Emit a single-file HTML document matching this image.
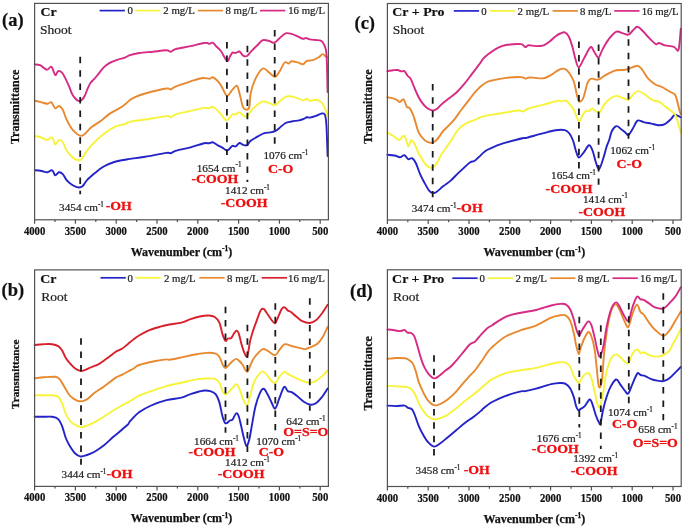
<!DOCTYPE html>
<html><head><meta charset="utf-8"><style>
html,body{margin:0;padding:0;background:#fff;}
svg{display:block;will-change:transform;}
</style></head><body>
<svg width="685" height="528" viewBox="0 0 685 528">
<rect width="685" height="528" fill="#fff"/>
<g fill="none" stroke-width="1.9" stroke-linejoin="round" stroke-linecap="round">
<path stroke="#2323c8" d="M34.7,170.3 C35.9,170.4,39.6,170.7,41.6,171 C43.6,171.3,45.1,172.4,46.9,172.3 C48.7,172.2,50.8,169.8,52.2,170.3 C53.6,170.8,54.1,175,55.2,175.3 C56.3,175.6,57.7,172.5,59,172.3 C60.3,172.1,61.5,172.8,62.8,174.1 C64.1,175.4,65.1,178.4,66.6,180.2 C68.1,182,70,183.5,71.9,184.7 C73.8,185.9,76.2,187.2,78,187.4 C79.8,187.7,81,187.4,82.5,186.2 C84,185,85,182.3,87,180.2 C89,178,91.8,175.6,94.6,173.3 C97.4,171,100.4,168.4,103.7,166.5 C107,164.6,110.8,163.1,114.3,162 C117.8,160.9,122.3,160.2,124.9,159.7 C127.5,159.2,126.6,159.4,130,158.9 C133.4,158.4,139.1,157.7,145.2,156.7 C151.3,155.7,162.1,153.5,166.4,152.9 C170.7,152.3,169.4,153.6,170.9,153.3 C172.4,153,172.2,151.9,175.5,150.9 C178.8,149.9,185.8,148.6,190.6,147.3 C195.4,146,201.2,144,204.2,143.3 C207.2,142.6,207.4,143.5,208.8,143.3 C210.2,143.1,211.1,142,212.6,142.3 C214.1,142.6,216.3,144.4,217.9,145.3 C219.5,146.2,220.9,146.7,222.4,147.6 C223.9,148.5,225.7,150.5,227,150.6 C228.3,150.7,229.1,149.1,230,148.3 C230.9,147.5,231.6,146.1,232.5,145.8 C233.4,145.5,234.4,146.9,235.6,146.4 C236.8,145.9,238.1,143.3,239.4,143 C240.7,142.7,241.9,144.4,243.2,144.8 C244.5,145.2,245.8,146,247,145.3 C248.2,144.6,248.8,142.3,250.7,140.8 C252.6,139.3,256,137.5,258.3,136.2 C260.6,134.9,262.4,133.8,264.4,133.2 C266.4,132.6,268.6,132.7,270.4,132.4 C272.2,132.1,273.5,131.9,275,131.2 C276.5,130.4,277.7,129.3,279.5,127.9 C281.3,126.5,283.6,124.1,285.6,123 C287.6,121.9,289.3,122,291.6,121.5 C293.9,121,297.2,120.8,299.2,120.3 C301.2,119.8,302.5,119.3,303.8,118.8 C305.1,118.3,305.8,117.5,306.8,117.3 C307.8,117.1,308.3,117.8,309.8,117.6 C311.3,117.3,313.9,116.5,315.9,115.8 C317.9,115.1,320.4,113.6,321.9,113.5 C323.4,113.4,324.2,112.8,325,115 C325.8,117.2,326.1,119.6,326.5,126.4 C326.9,133.2,327.4,151.1,327.6,156"/>
<path stroke="#f7f33a" d="M34.7,136.2 C35.6,136.3,38.1,136.4,40.1,137 C42.1,137.6,44.9,139.9,46.9,140 C48.9,140.1,50.8,136.7,52.2,137.4 C53.6,138.2,54.1,144.1,55.2,144.5 C56.3,144.9,57.7,140.4,59,140 C60.3,139.6,61.5,140.5,62.8,142.3 C64.1,144.1,65.1,148.2,66.6,150.6 C68.1,153,70.3,155.2,71.9,156.7 C73.5,158.2,74.9,159.2,76.4,159.7 C77.9,160.2,79.5,160.8,81,159.7 C82.5,158.6,84,155.1,85.5,152.9 C87,150.8,88.1,149.1,90.1,146.8 C92.1,144.5,94.8,141.7,97.6,139.2 C100.4,136.7,103.7,133.8,106.7,131.7 C109.7,129.6,112.8,127.7,115.8,126.4 C118.8,125.1,122.5,124.9,124.9,124.1 C127.3,123.3,126.6,122.6,130,121.8 C133.4,121,139.1,120.5,145.2,119.5 C151.3,118.5,162.1,116.5,166.4,116.1 C170.7,115.7,169.4,117.6,170.9,117.3 C172.4,117,172.2,115.6,175.5,114.5 C178.8,113.4,185.8,112,190.6,110.9 C195.4,109.8,201.2,108.4,204.2,107.9 C207.2,107.5,207.4,108.4,208.8,108.2 C210.2,108,211.3,106.5,212.6,106.7 C213.9,106.9,215,108.2,216.4,109.4 C217.8,110.7,219.3,112.4,220.9,114.2 C222.5,116,224.7,119.8,226.2,120.3 C227.7,120.8,228.9,118.3,230,117.3 C231.1,116.3,231.6,114.7,232.5,114.2 C233.4,113.7,234.4,114.8,235.6,114.5 C236.8,114.2,238.1,112.2,239.4,112.4 C240.7,112.6,241.9,114.8,243.2,115.5 C244.5,116.2,245.8,117.2,247,116.5 C248.2,115.8,249.1,113.1,250.7,111.2 C252.3,109.3,254.8,106.8,256.8,105.2 C258.8,103.6,260.8,101.8,262.8,101.4 C264.8,101,266.9,102.3,268.9,102.9 C270.9,103.5,273.2,105.5,275,105.2 C276.8,105,277.7,102.8,279.5,101.4 C281.3,100,283.6,97.6,285.6,96.8 C287.6,96,289.6,96.2,291.6,96.4 C293.6,96.7,295.8,97.7,297.7,98.3 C299.6,98.9,301.5,100.2,303,100.3 C304.5,100.4,305.7,98.7,306.8,98.8 C307.9,98.9,308.3,100.7,309.8,100.9 C311.3,101.1,314,99.6,315.9,99.8 C317.8,100,319.7,100.7,321.2,102.1 C322.7,103.5,323.9,105.9,325,108.2 C326.1,110.5,327.2,114.7,327.6,116"/>
<path stroke="#e8892f" d="M34.7,100.8 C35.9,101,39.5,101.8,41.6,102.3 C43.8,102.8,46,103.8,47.6,103.8 C49.2,103.8,50.1,101.5,51.4,102.3 C52.7,103,53.9,107.7,55.2,108.3 C56.5,108.9,57.7,105.8,59,106 C60.3,106.2,61.5,107.5,62.8,109.8 C64.1,112.1,65.1,116.5,66.6,119.7 C68.1,122.9,69.8,126.2,71.9,128.8 C74.1,131.4,77.5,134.5,79.5,135.5 C81.5,136.5,82,136.1,84,134.7 C86,133.3,88.8,129.4,91.6,127.1 C94.4,124.8,97.7,123.2,100.7,121 C103.7,118.8,106.3,116,109.8,113.6 C113.3,111.2,118.5,109.1,121.9,106.8 C125.3,104.5,127.9,101.6,130,100 C132.1,98.4,132,98.4,134.5,97.3 C137,96.2,139.9,95,145.2,93.5 C150.5,92,162.1,89.2,166.4,88.5 C170.7,87.8,169.4,89.7,170.9,89.4 C172.4,89.1,172.2,88,175.5,86.7 C178.8,85.4,186.1,82.9,190.6,81.4 C195.1,80,199.5,78.4,202.7,78 C205.8,77.6,207.8,78.9,209.5,78.8 C211.2,78.7,211.4,77.1,212.6,77.3 C213.8,77.5,215,78.5,216.4,79.8 C217.8,81.1,219.4,82.8,220.9,85.2 C222.4,87.6,224.4,92.4,225.5,94.2 C226.6,96,226.9,96,227.7,95.8 C228.4,95.6,229.2,94,230,93 C230.8,92,231.3,90.9,232.5,89.7 C233.7,88.5,235.8,84.9,237.1,85.9 C238.4,86.9,239,92.1,240.1,95.8 C241.2,99.5,242,106,243.5,108 C245,110,247.8,110.5,249,108 C250.2,105.5,249.6,97.8,250.7,93 C251.8,88.2,253.3,83.2,255.3,79.1 C257.3,75,260.5,69.6,262.8,68.5 C265.1,67.4,266.9,70.9,268.9,72.3 C270.9,73.7,273.2,76.9,275,76.8 C276.8,76.7,277.9,73.9,279.5,71.5 C281.1,69.1,283.3,63.7,284.8,62.4 C286.3,61.1,287.5,63.8,288.6,63.6 C289.7,63.4,290.1,61.4,291.6,61.2 C293.1,61,295.8,61.9,297.7,62.4 C299.6,62.9,301.5,64.5,303,64.2 C304.5,64,305.2,61.6,306.8,60.9 C308.4,60.2,310.8,60.8,312.8,60.2 C314.8,59.6,317.2,58.1,318.9,57.1 C320.5,56.1,321.6,54.2,322.7,54.1 C323.8,54,324.9,55.9,325.7,56.4 C326.5,56.9,327.3,56.9,327.6,57"/>
<path stroke="#d62a84" d="M34.7,64.4 C35.6,64.5,38.1,64.3,40.1,65.2 C42.1,66.1,45,69.5,46.9,69.7 C48.8,70,50,65.8,51.4,66.7 C52.8,67.6,54.1,74.2,55.2,75 C56.3,75.8,57.1,71.6,58.2,71.2 C59.3,70.8,60.9,71.6,62,72.7 C63.1,73.8,63.8,75.3,65,77.7 C66.2,80.1,68.1,84.2,69.3,86.9 C70.5,89.6,71,92,72.1,94 C73.2,96,74.5,97.8,75.7,99 C76.9,100.2,78.2,101,79.2,101.1 C80.2,101.2,81,100.6,82,99.7 C83,98.8,84,97.4,84.9,95.5 C85.9,93.6,86.8,90.5,87.7,88.4 C88.7,86.3,89.5,84.2,90.6,82.7 C91.7,81.2,92.9,80.4,94.1,79.1 C95.3,77.8,96,77,97.6,75 C99.2,73,101.7,69.4,103.7,67.4 C105.7,65.4,107.5,64.2,109.8,62.9 C112.1,61.6,114.8,60.7,117.3,59.8 C119.8,58.9,122.8,58.4,124.9,57.6 C127,56.8,127.6,56,130,55.2 C132.4,54.4,135.3,53.6,139.1,53 C142.9,52.4,148.1,52.2,152.7,51.8 C157.2,51.3,163.4,50.3,166.4,50.3 C169.4,50.3,169.4,52,170.9,51.8 C172.4,51.6,172.2,50,175.5,49.1 C178.8,48.2,186.1,47.1,190.6,46.1 C195.1,45.1,199.9,43.7,202.7,43.2 C205.5,42.7,206.2,42.9,207.3,43 C208.4,43.1,208.6,43.9,209.5,43.9 C210.4,43.9,211.4,42.3,212.6,42.7 C213.8,43.1,215,45.1,216.4,46.5 C217.8,47.9,219.1,48.6,220.9,51 C222.7,53.4,225.5,60,227,60.9 C228.5,61.8,229.1,57.8,230,56.4 C230.9,55,231.6,53.2,232.5,52.6 C233.4,52,234.4,53.2,235.6,53 C236.8,52.8,238.1,51.1,239.4,51.5 C240.7,51.9,241.9,54.9,243.2,55.6 C244.5,56.4,245.8,56.6,247,56 C248.2,55.4,249.1,53.5,250.7,51.8 C252.3,50.1,254.8,47.7,256.8,45.8 C258.8,43.9,260.8,41,262.8,40.2 C264.8,39.4,267,40.5,268.9,40.9 C270.8,41.3,272.4,43.2,274.2,42.7 C276,42.2,277.6,39.8,279.5,38.2 C281.4,36.6,283.6,34,285.6,33.3 C287.6,32.6,289.6,33.4,291.6,33.9 C293.6,34.4,295.8,35.6,297.7,36.4 C299.6,37.2,301.6,38.6,303,38.9 C304.4,39.1,304.9,37.8,306,37.9 C307.1,38,308.2,39,309.8,39.4 C311.4,39.8,314,39.8,315.9,40 C317.8,40.2,319.8,40.1,321.2,40.9 C322.6,41.7,323.3,42.7,324.2,45 C325.1,47.3,325.9,47,326.5,54.8 C327.1,62.6,327.4,85.8,327.6,92"/>
</g>
<g stroke="#1a1a1a" stroke-width="1.8" stroke-dasharray="6.5 6.9">
<line x1="80.2" y1="56.8" x2="80.2" y2="194.3"/>
<line x1="226.9" y1="42" x2="226.9" y2="154.9"/>
<line x1="247.4" y1="45.8" x2="247.4" y2="182"/>
<line x1="274.7" y1="30.1" x2="274.7" y2="143.9"/>
</g>
<rect x="34.6" y="3.4" width="293.8" height="216.4" fill="none" stroke="#525252" stroke-width="1.2"/>
<path stroke="#525252" stroke-width="1.2" fill="none" d="M34.6,219.8 v4 M55,219.8 v2.2 M75.4,219.8 v4 M95.8,219.8 v2.2 M116.2,219.8 v4 M136.6,219.8 v2.2 M157,219.8 v4 M177.4,219.8 v2.2 M197.8,219.8 v4 M218.2,219.8 v2.2 M238.6,219.8 v4 M259,219.8 v2.2 M279.4,219.8 v4 M299.8,219.8 v2.2 M320.2,219.8 v4"/>
<g font-family='"Liberation Serif", serif' font-weight="bold" font-size="11.8" fill="#111" stroke="#111" stroke-width="0.2" text-anchor="middle">
<text transform="translate(34.6,234.8) scale(0.91,1)">4000</text>
<text transform="translate(75.4,234.8) scale(0.91,1)">3500</text>
<text transform="translate(116.2,234.8) scale(0.91,1)">3000</text>
<text transform="translate(157,234.8) scale(0.91,1)">2500</text>
<text transform="translate(197.8,234.8) scale(0.91,1)">2000</text>
<text transform="translate(238.6,234.8) scale(0.91,1)">1500</text>
<text transform="translate(279.4,234.8) scale(0.91,1)">1000</text>
<text transform="translate(320.2,234.8) scale(0.91,1)">500</text>
</g>
<text x="181.5" y="255.8" font-family='"Liberation Serif", serif' font-weight="bold" font-size="12" fill="#111" stroke="#111" stroke-width="0.25" text-anchor="middle">Wavenumber (cm<tspan font-size="7.5" dy="-4.5">-1</tspan><tspan dy="4.5">)</tspan></text>
<text transform="translate(19.2,106.8) rotate(-90)" font-family='"Liberation Serif", serif' font-weight="bold" font-size="12" fill="#111" stroke="#111" stroke-width="0.25" text-anchor="middle">Transmittance</text>
<text x="2.1" y="25.8" font-family='"Liberation Serif", serif' font-weight="bold" font-size="18.5" fill="#111" stroke="#111" stroke-width="0.2">(a)</text>
<text transform="translate(40.5,15.7) scale(1.07,1)" font-family='"Liberation Serif", serif' font-weight="bold" font-size="13" fill="#111" stroke="#111" stroke-width="0.15">Cr</text>
<text x="40" y="34" font-family='"Liberation Serif", serif' font-size="13.5" fill="#222" stroke="#222" stroke-width="0.22">Shoot</text>
<line x1="99.6" y1="10.6" x2="124.9" y2="10.6" stroke="#2323c8" stroke-width="1.7"/>
<text x="127.4" y="14.4" font-family='"Liberation Serif", serif' font-size="10.8" fill="#222" stroke="#222" stroke-width="0.22">0</text>
<line x1="135.2" y1="10.6" x2="160.5" y2="10.6" stroke="#f7f33a" stroke-width="1.7"/>
<text x="163.3" y="14.4" font-family='"Liberation Serif", serif' font-size="10.8" fill="#222" stroke="#222" stroke-width="0.22">2 mg/L</text>
<line x1="197.8" y1="10.6" x2="223.1" y2="10.6" stroke="#e8892f" stroke-width="1.7"/>
<text x="225.5" y="14.4" font-family='"Liberation Serif", serif' font-size="10.8" fill="#222" stroke="#222" stroke-width="0.22">8 mg/L</text>
<line x1="260" y1="10.6" x2="285.3" y2="10.6" stroke="#d62a84" stroke-width="1.7"/>
<text x="288.2" y="14.4" font-family='"Liberation Serif", serif' font-size="10.8" fill="#222" stroke="#222" stroke-width="0.22">16 mg/L</text>
<text x="59.1" y="211" font-family='"Liberation Serif", serif' font-size="11.2" fill="#222" stroke="#222" stroke-width="0.22">3454 cm<tspan font-size="7.2" dy="-4.3">-1</tspan></text>
<text transform="translate(105.7,209.9) scale(1.05,1)" font-family='"Liberation Serif", serif' font-weight="bold" font-size="13.2" fill="#ee1111" stroke="#ee1111" stroke-width="0.3">-OH</text>
<text x="196.7" y="171.5" font-family='"Liberation Serif", serif' font-size="11.2" fill="#222" stroke="#222" stroke-width="0.22">1654 cm<tspan font-size="7.2" dy="-4.3">-1</tspan></text>
<text transform="translate(191.4,183.4) scale(1.05,1)" font-family='"Liberation Serif", serif' font-weight="bold" font-size="13.2" fill="#ee1111" stroke="#ee1111" stroke-width="0.3">-COOH</text>
<text x="225.1" y="193.9" font-family='"Liberation Serif", serif' font-size="11.2" fill="#222" stroke="#222" stroke-width="0.22">1412 cm<tspan font-size="7.2" dy="-4.3">-1</tspan></text>
<text transform="translate(220.7,207.4) scale(1.05,1)" font-family='"Liberation Serif", serif' font-weight="bold" font-size="13.2" fill="#ee1111" stroke="#ee1111" stroke-width="0.3">-COOH</text>
<text x="263.4" y="159.4" font-family='"Liberation Serif", serif' font-size="11.2" fill="#222" stroke="#222" stroke-width="0.22">1076 cm<tspan font-size="7.2" dy="-4.3">-1</tspan></text>
<text transform="translate(267.9,173.3) scale(1.05,1)" font-family='"Liberation Serif", serif' font-weight="bold" font-size="13.2" fill="#ee1111" stroke="#ee1111" stroke-width="0.3">C-O</text>
<g fill="none" stroke-width="1.9" stroke-linejoin="round" stroke-linecap="round">
<path stroke="#2323c8" d="M34.6,416.8 C36,416.8,40.2,416.8,43.1,416.8 C46,416.8,49.7,416.4,52.2,416.8 C54.7,417.2,56.6,417.6,58.2,419.1 C59.8,420.6,60.7,422.8,62,425.9 C63.3,429,64.4,434.5,65.8,438 C67.2,441.5,68.9,444.6,70.4,447.1 C71.9,449.6,73.2,451.6,74.9,453.2 C76.6,454.8,78.7,456.2,80.7,456.5 C82.7,456.8,84.7,455.8,87,455 C89.3,454.2,91.8,453.3,94.6,451.7 C97.4,450.1,100.7,448,103.7,445.6 C106.7,443.2,109.8,440,112.8,437.3 C115.8,434.6,119.4,431.9,121.9,429.7 C124.4,427.5,126.7,425.8,128,424.4 C129.3,423,128.2,423.4,130,421.4 C131.8,419.4,135.6,414.9,139.1,412.3 C142.6,409.7,146.6,407.5,151.2,405.5 C155.8,403.5,161.3,401.5,166.4,400.2 C171.5,398.9,177.5,398.6,181.5,397.6 C185.5,396.6,187.1,395.2,190.6,394.1 C194.1,393,199.4,391.3,202.7,390.8 C206,390.3,208.2,390.6,210.3,391.1 C212.5,391.7,214.1,392.2,215.6,394.1 C217.1,396,218.3,398.8,219.4,402.4 C220.5,406,221.4,412.5,222.4,416 C223.4,419.5,224.2,422.6,225.5,423.3 C226.8,424.1,228.7,421.1,229.9,420.5 C231.1,419.9,231.5,420.8,232.5,419.6 C233.5,418.4,235,414.1,236,413.5 C237,412.9,237.7,413.8,238.6,416 C239.5,418.2,240.4,422.9,241.3,426.6 C242.2,430.3,243,434.8,243.9,438 C244.8,441.2,245.6,445.6,246.5,445.9 C247.4,446.2,248.3,443.1,249.2,439.8 C250.1,436.5,250.8,431.3,251.8,425.8 C252.8,420.3,254,412.4,255.3,407 C256.6,401.6,258.4,396.3,259.8,393.3 C261.2,390.3,262.3,388.7,263.6,388.8 C264.9,388.9,266,391.7,267.4,394.1 C268.8,396.5,270.6,400.8,271.9,403.2 C273.2,405.6,274,409.4,275.3,408.5 C276.6,407.6,278,401.5,279.5,397.9 C281,394.3,282.7,388.1,284.1,387 C285.5,385.9,286.6,390.2,287.8,391.1 C289.1,392,290,391.2,291.6,392.1 C293.2,393,295.7,394.8,297.7,396.4 C299.7,398,301.6,400.3,303.8,401.7 C306,403.1,308.6,404.4,310.6,404.7 C312.6,404.9,314,404.5,315.9,403.2 C317.8,401.9,319.9,399.6,321.9,397.1 C323.8,394.7,326.7,389.9,327.6,388.5"/>
<path stroke="#f7f33a" d="M34.6,395.3 C36,395.3,40.2,395.3,43.1,395.3 C46,395.3,49.7,395.1,52.2,395.3 C54.7,395.6,56.6,395.5,58.2,396.8 C59.8,398.1,60.7,400.4,62,403.2 C63.3,406,64.4,410.8,65.8,413.8 C67.2,416.8,68.8,419.5,70.4,421.4 C72.1,423.3,73.9,424.2,75.7,425.2 C77.5,426.1,79.1,427,81,427.1 C82.9,427.2,84.7,426.4,87,425.6 C89.3,424.8,91.8,423.6,94.6,422.1 C97.4,420.6,100.7,418.7,103.7,416.8 C106.7,414.9,109.8,412.7,112.8,410.8 C115.8,408.9,119.4,406.9,121.9,405.5 C124.4,404.1,126,403.5,128,402.4 C130,401.2,132.2,399.7,134,398.6 C135.8,397.5,136.2,396.9,139.1,395.6 C142,394.4,146.6,392.7,151.2,391.1 C155.8,389.5,161.3,387.5,166.4,386.1 C171.5,384.7,176.4,383.8,181.5,382.7 C186.6,381.6,192.1,380.1,196.7,379.4 C201.2,378.7,205.8,378.6,208.8,378.5 C211.8,378.4,213,378.2,214.8,378.9 C216.6,379.6,218.1,380.7,219.4,382.7 C220.7,384.7,221.4,389.1,222.4,391.1 C223.4,393.1,224.6,394.2,225.5,394.5 C226.4,394.8,226.8,393.7,228,392.6 C229.2,391.5,231.1,389.4,232.5,388 C233.9,386.6,235.2,384.1,236.3,384.2 C237.5,384.3,238.2,386.3,239.4,388.8 C240.6,391.3,241.9,396.7,243.2,399.4 C244.5,402.1,245.9,405.7,247,405.2 C248.1,404.7,248.9,400.1,250,396.4 C251.1,392.6,252.4,386.2,253.8,382.7 C255.2,379.2,256.9,377.1,258.3,375.2 C259.7,373.3,260.8,371.7,262.1,371.4 C263.4,371.1,264.5,372.2,265.9,373.6 C267.3,375,268.9,378.1,270.4,379.7 C271.9,381.3,273.5,383.5,275,383 C276.5,382.5,278,378.6,279.5,376.7 C281,374.8,282.6,372.2,284.1,371.8 C285.6,371.4,286.8,373.5,288.6,374.4 C290.4,375.3,292.4,376.3,294.7,377.4 C297,378.5,299.7,380,302.2,380.9 C304.7,381.8,307.5,382.7,309.8,382.7 C312.1,382.7,313.9,381.9,315.9,380.9 C317.9,379.8,319.9,378.1,321.9,376.4 C323.8,374.7,326.7,371.5,327.6,370.5"/>
<path stroke="#e8892f" d="M34.6,378.3 C36,378.1,39.7,377.6,43.1,377.3 C46.5,377.1,52.4,376.5,55.2,376.8 C58,377.1,58.3,377.8,59.8,379.4 C61.3,381,62.8,384.2,64.3,386.7 C65.8,389.2,67.3,392.2,68.8,394.2 C70.3,396.2,71.5,397.4,73.4,398.6 C75.3,399.8,77.7,401.3,80,401.4 C82.3,401.5,84.6,400.8,87,399.4 C89.4,397.9,91.8,394.8,94.6,392.7 C97.4,390.6,100.2,389.2,103.7,386.7 C107.2,384.2,112.8,379.6,115.8,377.6 C118.8,375.6,119.9,375.8,121.9,374.8 C123.9,373.8,126,372.6,128,371.5 C130,370.4,132.2,369.3,134,368.2 C135.8,367.1,135.7,366.2,139.1,365 C142.5,363.8,149.6,362.1,154.2,361.2 C158.8,360.3,163.9,359.6,166.4,359.4 C168.9,359.1,166.9,360,169.4,359.7 C171.9,359.4,177.5,358.2,181.5,357.4 C185.5,356.6,189.5,355.6,193.6,354.8 C197.7,354.1,202.3,353.1,205.8,352.9 C209.3,352.6,212.5,352.7,214.8,353.3 C217.1,353.9,218.1,354.9,219.4,356.7 C220.7,358.5,221.4,362.3,222.4,364.2 C223.4,366.1,224.6,367.7,225.5,368 C226.4,368.3,226.8,366.9,228,365.8 C229.2,364.7,231.1,362.4,232.5,361.2 C233.9,360,235.2,358.9,236.3,358.9 C237.5,358.9,238.4,360.3,239.4,361.2 C240.4,362.1,241.1,362.7,242.4,364.5 C243.7,366.3,245.6,371.8,247,371.8 C248.4,371.8,249.6,366.8,250.7,364.5 C251.8,362.2,252.5,360.1,253.8,358.2 C255.1,356.3,256.8,354.4,258.3,352.9 C259.8,351.4,261.3,349.5,262.8,349.1 C264.3,348.7,265.4,349.6,267.4,350.6 C269.4,351.6,273,355.3,275,355.2 C277,355.1,277.9,351.6,279.5,349.8 C281.1,348,282.8,344.8,284.8,344.2 C286.8,343.6,289.2,345.4,291.6,346 C294,346.6,296.9,347.4,299.2,347.9 C301.5,348.4,303.3,349.3,305.3,349.1 C307.3,348.9,309.3,347.7,311.3,346.8 C313.3,345.9,315.5,345.4,317.4,343.8 C319.3,342.2,321,339.8,322.7,337 C324.4,334.2,326.8,328.7,327.6,327"/>
<path stroke="#d8202c" d="M34.6,345 C36,344.9,40.2,344.3,43.1,344.2 C46,344.1,49.7,343.9,52.2,344.2 C54.7,344.5,56.6,345.1,58.2,346.1 C59.8,347.1,60.7,348.3,62,350.3 C63.3,352.3,64.4,355.6,65.8,357.9 C67.2,360.2,68.9,362.2,70.4,363.9 C71.9,365.6,73.3,367,74.9,368.2 C76.5,369.4,78.7,370.4,80.2,370.8 C81.7,371.2,82.1,370.9,84,370.3 C85.9,369.7,89.1,368.1,91.6,367 C94.1,365.9,96.7,365.3,99.2,363.9 C101.7,362.5,103.9,360.6,106.7,358.6 C109.5,356.6,113.3,353.4,115.8,351.8 C118.3,350.2,119.9,350.1,121.9,348.8 C123.9,347.5,126,345.5,128,343.9 C130,342.2,132.2,340.3,134,338.9 C135.8,337.5,136.7,336.9,139.1,335.5 C141.5,334.1,144.7,332.1,148.2,330.6 C151.7,329.1,156.8,327.7,160.3,326.7 C163.8,325.7,165.9,325.2,169.4,324.5 C172.9,323.8,178,323.5,181.5,322.6 C185,321.7,187.6,320.1,190.6,319.1 C193.6,318.1,196.7,317.1,199.7,316.5 C202.7,315.9,206.3,315.4,208.8,315.5 C211.3,315.6,213,315.8,214.8,317 C216.6,318.2,218.1,319.8,219.4,322.6 C220.7,325.4,221.4,330.9,222.4,333.9 C223.4,336.9,224.6,340,225.5,340.8 C226.4,341.6,227.1,338.9,228,338.5 C228.9,338.1,230.1,338.8,231,338.2 C231.9,337.6,232.4,336,233.3,334.7 C234.2,333.4,235.4,330.9,236.3,330.6 C237.2,330.4,237.7,330.9,238.6,333.2 C239.5,335.5,240.6,341.1,241.6,344.5 C242.6,347.9,243.7,351.7,244.7,353.6 C245.7,355.5,246.5,357.9,247.4,355.9 C248.3,353.9,249.1,345.7,250,341.5 C250.9,337.3,251.9,334.4,253,330.9 C254.1,327.4,255.5,323.7,256.8,320.3 C258.1,316.9,259.5,312.4,260.6,310.5 C261.7,308.6,262.6,308.5,263.6,308.9 C264.6,309.3,265.3,310.9,266.6,312.7 C267.9,314.5,269.8,317.7,271.2,319.5 C272.6,321.3,273.9,323.7,275,323.3 C276.1,322.9,276.9,319.7,278,317.3 C279.1,314.9,280.7,310.5,281.8,308.9 C282.9,307.2,283.8,307.1,284.8,307.4 C285.8,307.7,286.8,309.7,287.8,310.5 C288.8,311.3,289.5,311,290.9,312 C292.3,313,294.3,315,296.2,316.5 C298.1,318,299.9,320,302.2,321.1 C304.5,322.2,307.5,323.1,309.8,323 C312.1,322.9,313.9,321.9,315.9,320.3 C317.9,318.7,319.9,316.1,321.9,313.5 C323.8,310.9,326.7,306.2,327.6,304.8"/>
</g>
<g stroke="#1a1a1a" stroke-width="1.8" stroke-dasharray="6.5 6.9">
<line x1="81" y1="338.2" x2="81" y2="464.8"/>
<line x1="225.5" y1="306.7" x2="225.5" y2="432.8"/>
<line x1="247.4" y1="324.8" x2="247.4" y2="452"/>
<line x1="275.3" y1="303.3" x2="275.3" y2="430.3"/>
<line x1="309.8" y1="298.3" x2="309.8" y2="410.8"/>
</g>
<rect x="34.6" y="269.9" width="293.8" height="216.5" fill="none" stroke="#525252" stroke-width="1.2"/>
<path stroke="#525252" stroke-width="1.2" fill="none" d="M34.6,486.4 v4 M55,486.4 v2.2 M75.4,486.4 v4 M95.8,486.4 v2.2 M116.2,486.4 v4 M136.6,486.4 v2.2 M157,486.4 v4 M177.4,486.4 v2.2 M197.8,486.4 v4 M218.2,486.4 v2.2 M238.6,486.4 v4 M259,486.4 v2.2 M279.4,486.4 v4 M299.8,486.4 v2.2 M320.2,486.4 v4"/>
<g font-family='"Liberation Serif", serif' font-weight="bold" font-size="11.8" fill="#111" stroke="#111" stroke-width="0.2" text-anchor="middle">
<text transform="translate(34.6,501.4) scale(0.91,1)">4000</text>
<text transform="translate(75.4,501.4) scale(0.91,1)">3500</text>
<text transform="translate(116.2,501.4) scale(0.91,1)">3000</text>
<text transform="translate(157,501.4) scale(0.91,1)">2500</text>
<text transform="translate(197.8,501.4) scale(0.91,1)">2000</text>
<text transform="translate(238.6,501.4) scale(0.91,1)">1500</text>
<text transform="translate(279.4,501.4) scale(0.91,1)">1000</text>
<text transform="translate(320.2,501.4) scale(0.91,1)">500</text>
</g>
<text x="181.5" y="522.4" font-family='"Liberation Serif", serif' font-weight="bold" font-size="12" fill="#111" stroke="#111" stroke-width="0.25" text-anchor="middle">Wavenumber (cm<tspan font-size="7.5" dy="-4.5">-1</tspan><tspan dy="4.5">)</tspan></text>
<text transform="translate(19.2,374.2) rotate(-90)" font-family='"Liberation Serif", serif' font-weight="bold" font-size="11.2" fill="#111" stroke="#111" stroke-width="0.25" text-anchor="middle">Transmittance</text>
<text x="1.5" y="295.5" font-family='"Liberation Serif", serif' font-weight="bold" font-size="18.5" fill="#111" stroke="#111" stroke-width="0.2">(b)</text>
<text transform="translate(40.3,283) scale(1.07,1)" font-family='"Liberation Serif", serif' font-weight="bold" font-size="13" fill="#111" stroke="#111" stroke-width="0.15">Cr</text>
<text x="41.2" y="301.2" font-family='"Liberation Serif", serif' font-size="13.5" fill="#222" stroke="#222" stroke-width="0.22">Root</text>
<line x1="100.5" y1="277.8" x2="125.8" y2="277.8" stroke="#2323c8" stroke-width="1.7"/>
<text x="127.5" y="281.6" font-family='"Liberation Serif", serif' font-size="10.8" fill="#222" stroke="#222" stroke-width="0.22">0</text>
<line x1="135.5" y1="277.8" x2="160.8" y2="277.8" stroke="#f7f33a" stroke-width="1.7"/>
<text x="164" y="281.6" font-family='"Liberation Serif", serif' font-size="10.8" fill="#222" stroke="#222" stroke-width="0.22">2 mg/L</text>
<line x1="199.3" y1="277.8" x2="224.6" y2="277.8" stroke="#e8892f" stroke-width="1.7"/>
<text x="227.1" y="281.6" font-family='"Liberation Serif", serif' font-size="10.8" fill="#222" stroke="#222" stroke-width="0.22">8 mg/L</text>
<line x1="261.7" y1="277.8" x2="287" y2="277.8" stroke="#d8202c" stroke-width="1.7"/>
<text x="288" y="281.6" font-family='"Liberation Serif", serif' font-size="10.8" fill="#222" stroke="#222" stroke-width="0.22">16 mg/L</text>
<text x="61.6" y="478.2" font-family='"Liberation Serif", serif' font-size="11.2" fill="#222" stroke="#222" stroke-width="0.22">3444 cm<tspan font-size="7.2" dy="-4.3">-1</tspan></text>
<text transform="translate(106.4,478.2) scale(1.05,1)" font-family='"Liberation Serif", serif' font-weight="bold" font-size="13.2" fill="#ee1111" stroke="#ee1111" stroke-width="0.3">-OH</text>
<text x="194.1" y="445" font-family='"Liberation Serif", serif' font-size="11.2" fill="#222" stroke="#222" stroke-width="0.22">1664 cm<tspan font-size="7.2" dy="-4.3">-1</tspan></text>
<text transform="translate(188.6,456.4) scale(1.05,1)" font-family='"Liberation Serif", serif' font-weight="bold" font-size="13.2" fill="#ee1111" stroke="#ee1111" stroke-width="0.3">-COOH</text>
<text x="225.1" y="466" font-family='"Liberation Serif", serif' font-size="11.2" fill="#222" stroke="#222" stroke-width="0.22">1412 cm<tspan font-size="7.2" dy="-4.3">-1</tspan></text>
<text transform="translate(217.7,478.3) scale(1.05,1)" font-family='"Liberation Serif", serif' font-weight="bold" font-size="13.2" fill="#ee1111" stroke="#ee1111" stroke-width="0.3">-COOH</text>
<text x="256.3" y="445" font-family='"Liberation Serif", serif' font-size="11.2" fill="#222" stroke="#222" stroke-width="0.22">1070 cm<tspan font-size="7.2" dy="-4.3">-1</tspan></text>
<text transform="translate(258.7,455.9) scale(1.05,1)" font-family='"Liberation Serif", serif' font-weight="bold" font-size="13.2" fill="#ee1111" stroke="#ee1111" stroke-width="0.3">C-O</text>
<text x="286.3" y="425.2" font-family='"Liberation Serif", serif' font-size="11.2" fill="#222" stroke="#222" stroke-width="0.22">642 cm<tspan font-size="7.2" dy="-4.3">-1</tspan></text>
<text transform="translate(283.3,435.8) scale(1.05,1)" font-family='"Liberation Serif", serif' font-weight="bold" font-size="13.2" fill="#ee1111" stroke="#ee1111" stroke-width="0.3">O=S=O</text>
<g fill="none" stroke-width="1.9" stroke-linejoin="round" stroke-linecap="round">
<path stroke="#2323c8" d="M387.4,154.7 C388.6,154.8,392.5,155.1,394.6,155.5 C396.7,155.9,398.3,157.4,399.9,157.3 C401.5,157.2,403,154.9,404.4,155.2 C405.8,155.5,406.9,158.7,408.2,159.2 C409.5,159.7,410.7,157.6,412,158.2 C413.3,158.8,414.5,160.4,415.8,163 C417.1,165.6,418.5,170.5,420,173.9 C421.5,177.3,423.1,180.4,424.7,183.2 C426.2,186,427.9,189.2,429.3,190.8 C430.7,192.5,431.6,192.9,432.8,193.1 C434,193.3,434.6,193.2,436.4,192 C438.2,190.8,441.1,187.9,443.4,186.1 C445.7,184.2,448.1,182.9,450.4,180.9 C452.7,178.9,455.1,176.2,457.4,173.9 C459.7,171.7,462.3,169.4,464.4,167.4 C466.5,165.4,468.5,163.3,470.2,162.2 C471.9,161.1,472.9,161.8,474.3,161 C475.7,160.2,476.5,159.2,478.4,157.5 C480.2,155.8,483.1,152.8,485.4,151.1 C487.7,149.4,490,148.7,492.4,147.6 C494.8,146.5,497.8,145.2,500,144.4 C502.2,143.6,502,143.6,505.7,142.6 C509.4,141.6,518.9,139.1,522.4,138.3 C525.9,137.5,523.4,138.5,526.9,137.7 C530.4,136.8,538.8,134.4,543.6,133.2 C548.4,131.9,552.2,130.7,555.7,130.2 C559.2,129.7,562.5,129.6,564.8,130.2 C567.1,130.8,568,131.7,569.4,133.5 C570.8,135.3,572.1,138,573.2,141 C574.3,144,575.2,148.9,576.2,151.7 C577.2,154.4,577.6,157.4,578.9,157.5 C580.2,157.6,582.1,154.3,583.8,152.3 C585.5,150.3,587.5,145.6,589,145.3 C590.5,145,591.3,147.6,592.5,150.5 C593.7,153.4,594.9,159.7,596,162.8 C597.1,165.9,598,169.5,599.2,168.9 C600.4,168.3,601.8,163,603,159.3 C604.2,155.7,605.5,150.2,606.5,147 C607.5,143.8,608.3,142.6,609.2,140 C610.1,137.4,610.6,133.5,611.8,131.2 C613,128.9,614.9,126.6,616.4,126.2 C617.9,125.8,619.4,127.8,620.9,128.9 C622.4,130,624.2,131.7,625.5,132.7 C626.8,133.7,627.2,135.8,628.5,135 C629.8,134.2,631.5,130.6,633,128.2 C634.5,125.8,635.8,121.6,637.6,120.6 C639.4,119.6,641.3,121.6,643.6,122.1 C645.9,122.6,648.7,123.1,651.2,123.6 C653.7,124.1,656.5,125.1,658.8,125.2 C661.1,125.3,662.8,125.1,664.8,124.1 C666.8,123.1,669.3,120.6,670.9,119.1 C672.5,117.5,673.4,115.3,674.6,114.8 C675.8,114.3,677.3,115.6,678.3,116 C679.3,116.4,680.4,117.1,680.8,117.3"/>
<path stroke="#f7f33a" d="M387.4,132.7 C388.3,133.2,391.2,134.6,393.1,135.8 C395.1,137,397.2,140,399.1,140 C401,140,402.9,134.8,404.4,135.8 C405.9,136.8,407.1,145.3,408.2,146.1 C409.3,146.8,410.1,140.5,411.2,140.3 C412.3,140.1,413.7,142.5,415,144.8 C416.3,147.1,418,152.2,418.8,153.9 C419.6,155.6,419,153.6,420,155.2 C421,156.8,423.1,161.4,424.7,163.4 C426.2,165.4,427.9,166.7,429.3,167.4 C430.7,168.1,431.6,168,432.8,167.4 C434,166.8,435,165.9,436.4,163.9 C437.8,161.9,439.4,157.8,441,155.2 C442.6,152.6,443.9,150.7,445.7,148.2 C447.4,145.7,449.4,143.1,451.5,140 C453.6,136.9,455.8,132.4,458.2,129.7 C460.6,127,463,125.2,465.8,123.6 C468.6,121.9,472,121,474.9,119.8 C477.8,118.6,479.1,117.5,483,116.5 C486.9,115.5,492.4,114.8,498.2,113.8 C504,112.8,513.6,110.9,517.8,110.5 C522,110.1,521.4,111.8,523.2,111.5 C525,111.2,525.1,109.6,528.5,108.5 C531.9,107.4,538.8,106,543.6,104.7 C548.4,103.4,554.2,101.5,557.2,100.9 C560.2,100.4,560.4,101.5,561.8,101.4 C563.2,101.3,564.3,100.1,565.6,100.5 C566.9,100.9,568,102.3,569.4,103.9 C570.8,105.5,572.3,107.1,573.9,110 C575.5,112.9,577.3,120.3,578.8,121.1 C580.3,121.8,581.8,116.2,583,114.5 C584.2,112.8,585.1,111.4,586.1,110.8 C587.1,110.2,588.1,111.5,589.1,111.1 C590.1,110.7,591.1,108.5,592.1,108.5 C593.1,108.5,593.9,110.2,595.2,110.8 C596.5,111.4,598.2,113.3,599.7,112.3 C601.2,111.3,602.4,107,604.2,104.7 C606,102.4,608.3,100.1,610.3,98.6 C612.3,97.1,614.4,96,616.4,95.9 C618.4,95.8,620.4,97.2,622.4,97.9 C624.4,98.6,626.7,100.3,628.5,99.8 C630.3,99.3,631.4,96.2,633,94.8 C634.6,93.3,636.3,91.1,638.3,91.1 C640.3,91.1,642.8,93.3,645.2,94.8 C647.6,96.3,650.4,99,652.7,100.2 C655,101.4,656.8,100.7,658.8,101.7 C660.8,102.7,662.8,104.7,664.8,106.2 C666.8,107.7,669.1,109.3,670.9,110.8 C672.7,112.3,674.2,113,675.5,115.3 C676.8,117.6,677.6,121.5,678.5,124.4 C679.4,127.3,680.4,131.2,680.8,132.5"/>
<path stroke="#e8892f" d="M387.4,97.3 C388.3,97.5,391.5,97.9,393.1,98.3 C394.7,98.7,395.7,99.2,396.8,99.8 C397.9,100.4,398.8,102.2,399.9,102.1 C401,102,402.6,98.6,403.7,99.4 C404.8,100.2,405.7,105.2,406.7,106.7 C407.7,108.2,408.7,107,409.7,108.2 C410.7,109.5,411.9,112.1,412.8,114.2 C413.7,116.3,414,117.5,415,120.6 C416,123.7,417.4,129.7,418.8,132.7 C420.2,135.7,421.9,137.2,423.4,138.8 C424.9,140.4,426.4,141.5,427.9,142.1 C429.4,142.7,431,143,432.5,142.6 C434,142.2,435.2,141.4,437,139.5 C438.8,137.6,441.1,133.6,443.1,131.2 C445.1,128.8,447.1,127.3,449.1,125.2 C451.1,123.1,453.2,120.8,455.2,118.3 C457.2,115.8,459.2,112.7,461.2,110 C463.2,107.3,465,105,467.3,102.1 C469.6,99.1,472.6,94.9,474.9,92.3 C477.2,89.7,478.9,87.9,480.9,86.2 C482.9,84.5,485.1,83,487,82 C488.9,81,489,81.2,492.1,80.5 C495.2,79.8,500.9,78.5,505.7,77.9 C510.5,77.3,517.6,77,520.9,77.1 C524.2,77.2,523.9,78.5,525.4,78.6 C526.9,78.6,527,77.5,530,77.4 C533,77.4,540.1,78.7,543.6,78.3 C547.1,77.9,548.7,76.2,551.2,74.8 C553.7,73.4,556.5,70.8,558.8,69.8 C561.1,68.8,563,68.2,564.8,68.8 C566.6,69.4,567.9,71.1,569.4,73.3 C570.9,75.5,572.6,78.1,573.9,81.7 C575.1,85.3,576,91.7,576.9,95 C577.8,98.3,578.2,101.1,579.2,101.7 C580.2,102.3,582,100.4,583,98.6 C584,96.8,584.7,93.3,585.3,91 C585.9,88.7,586.2,86.8,586.8,85 C587.4,83.2,588.2,81.3,589.1,80.2 C590,79.1,590.8,78.7,592.1,78.6 C593.4,78.5,595.3,79.8,596.7,79.8 C598.1,79.8,599.2,79.2,600.5,78.6 C601.8,77.9,602.6,76.9,604.2,75.9 C605.8,74.9,608.3,73.5,610.3,72.6 C612.3,71.7,613.9,70.8,616.4,70.3 C618.9,69.8,623.2,70.1,625.5,69.8 C627.8,69.5,628,69,630,68.3 C632,67.6,635.3,65.6,637.3,65.8 C639.3,66,640.3,67.4,642.1,69.5 C643.9,71.6,645.9,76.1,648.2,78.6 C650.5,81.1,653.5,83.3,655.8,84.7 C658.1,86.1,659.3,85.7,661.8,87 C664.3,88.3,668.6,90.9,670.9,92.3 C673.2,93.7,674,92.4,675.5,95.5 C677,98.6,678.7,107.9,679.6,111 C680.5,114.1,680.6,113.5,680.8,114"/>
<path stroke="#d62a84" d="M387.4,71.1 C388.3,71,391.4,70.5,393.1,70.3 C394.8,70.1,396.2,69.8,397.6,70 C399,70.2,400.3,71.2,401.4,71.4 C402.5,71.6,403.4,70.4,404.4,71.1 C405.4,71.8,406.5,74.3,407.5,75.6 C408.5,76.8,409.5,76.9,410.5,78.6 C411.5,80.2,412.4,82.8,413.5,85.5 C414.6,88.2,416,91.8,417.3,94.5 C418.6,97.2,419.6,99.2,421.1,101.4 C422.6,103.6,424.5,105.9,426.4,107.4 C428.3,108.9,430.7,110.2,432.5,110.5 C434.3,110.8,435.5,109.9,437,108.9 C438.5,107.9,439.5,106.2,441.5,104.4 C443.5,102.6,446.6,100.3,449.1,98.3 C451.6,96.3,454.2,94.7,456.7,92.3 C459.2,89.9,461.8,86.9,464.3,83.9 C466.8,80.9,469.3,77.4,471.8,74.1 C474.3,70.8,477.5,66.7,479.4,64.2 C481.3,61.7,481.4,60.7,483,58.9 C484.6,57.1,486.6,55.5,489.1,53.6 C491.6,51.7,495.2,49.1,498.2,47.6 C501.2,46.1,503.4,45.4,507.2,44.8 C511,44.2,518.2,44,520.9,44.1 C523.2,44.2,522.5,44.8,523.2,45.3 C524,45.8,524.5,47.1,525.4,47.1 C526.3,47.1,526.7,45.5,528.5,45.3 C530.3,45.1,533.5,46.1,536,46.1 C538.5,46.1,541.3,46.1,543.6,45.3 C545.9,44.5,547.7,43,549.7,41.5 C551.7,40,553.9,37.5,555.7,36.2 C557.5,34.9,558.8,34.1,560.3,33.5 C561.8,32.9,563.4,31.9,564.8,32.4 C566.2,32.9,567.3,33.8,568.6,36.2 C569.9,38.6,571.3,43,572.4,46.8 C573.5,50.6,574.3,55.5,575.4,58.9 C576.5,62.3,577.3,67.5,578.8,67.3 C580.3,67,582.5,60.8,584.5,57.4 C586.5,54,589,48,590.6,47.1 C592.2,46.2,593.1,50.4,594.4,52.1 C595.7,53.8,597.1,57.9,598.5,57.4 C599.9,56.9,601,52.1,602.7,49.1 C604.4,46.1,606.5,42.1,608.8,39.2 C611.1,36.3,614.1,32.7,616.4,31.7 C618.7,30.7,620.4,32.7,622.4,33.2 C624.4,33.7,626.7,35.2,628.5,34.7 C630.3,34.2,631.5,31.5,633,30.2 C634.5,28.9,635.8,26.8,637.3,26.8 C638.8,26.8,640.3,28.5,642.1,30.2 C643.9,31.9,645.9,34.7,648.2,37 C650.5,39.3,654,43.1,655.8,44.1 C657.6,45.1,657.3,42.8,658.8,43 C660.3,43.2,662.3,44.7,664.8,45.3 C667.3,45.9,671.6,46,673.9,46.8 C676.2,47.5,677.4,52.8,678.5,49.8 C679.6,46.8,680.4,32.1,680.8,28.6"/>
</g>
<g stroke="#1a1a1a" stroke-width="1.8" stroke-dasharray="6.5 6.9">
<line x1="432.7" y1="83.9" x2="432.7" y2="197.3"/>
<line x1="578.9" y1="41.5" x2="578.9" y2="168.9"/>
<line x1="598.6" y1="44.5" x2="598.6" y2="184.7"/>
<line x1="628.5" y1="25.9" x2="628.5" y2="138.8"/>
</g>
<rect x="387.4" y="3.5" width="293.8" height="216.5" fill="none" stroke="#525252" stroke-width="1.2"/>
<path stroke="#525252" stroke-width="1.2" fill="none" d="M387.4,220 v4 M407.8,220 v2.2 M428.2,220 v4 M448.6,220 v2.2 M469,220 v4 M489.4,220 v2.2 M509.8,220 v4 M530.2,220 v2.2 M550.6,220 v4 M571,220 v2.2 M591.4,220 v4 M611.8,220 v2.2 M632.2,220 v4 M652.6,220 v2.2 M673,220 v4"/>
<g font-family='"Liberation Serif", serif' font-weight="bold" font-size="11.8" fill="#111" stroke="#111" stroke-width="0.2" text-anchor="middle">
<text transform="translate(387.4,235) scale(0.91,1)">4000</text>
<text transform="translate(428.2,235) scale(0.91,1)">3500</text>
<text transform="translate(469,235) scale(0.91,1)">3000</text>
<text transform="translate(509.8,235) scale(0.91,1)">2500</text>
<text transform="translate(550.6,235) scale(0.91,1)">2000</text>
<text transform="translate(591.4,235) scale(0.91,1)">1500</text>
<text transform="translate(632.2,235) scale(0.91,1)">1000</text>
<text transform="translate(673,235) scale(0.91,1)">500</text>
</g>
<text x="534.3" y="256" font-family='"Liberation Serif", serif' font-weight="bold" font-size="12" fill="#111" stroke="#111" stroke-width="0.25" text-anchor="middle">Wavenumber (cm<tspan font-size="7.5" dy="-4.5">-1</tspan><tspan dy="4.5">)</tspan></text>
<text transform="translate(372,106.6) rotate(-90)" font-family='"Liberation Serif", serif' font-weight="bold" font-size="12" fill="#111" stroke="#111" stroke-width="0.25" text-anchor="middle">Transmittance</text>
<text x="354.5" y="28.5" font-family='"Liberation Serif", serif' font-weight="bold" font-size="18.5" fill="#111" stroke="#111" stroke-width="0.2">(c)</text>
<text transform="translate(392.3,15.6) scale(1.07,1)" font-family='"Liberation Serif", serif' font-weight="bold" font-size="13" fill="#111" stroke="#111" stroke-width="0.15">Cr + Pro</text>
<text x="392.7" y="33.5" font-family='"Liberation Serif", serif' font-size="13.5" fill="#222" stroke="#222" stroke-width="0.22">Shoot</text>
<line x1="453.8" y1="10.9" x2="479.1" y2="10.9" stroke="#2323c8" stroke-width="1.7"/>
<text x="481.3" y="14.7" font-family='"Liberation Serif", serif' font-size="10.8" fill="#222" stroke="#222" stroke-width="0.22">0</text>
<line x1="489.9" y1="10.9" x2="515.2" y2="10.9" stroke="#f7f33a" stroke-width="1.7"/>
<text x="517.6" y="14.7" font-family='"Liberation Serif", serif' font-size="10.8" fill="#222" stroke="#222" stroke-width="0.22">2 mg/L</text>
<line x1="552.6" y1="10.9" x2="577.9" y2="10.9" stroke="#e8892f" stroke-width="1.7"/>
<text x="579.9" y="14.7" font-family='"Liberation Serif", serif' font-size="10.8" fill="#222" stroke="#222" stroke-width="0.22">8 mg/L</text>
<line x1="614.2" y1="10.9" x2="639.5" y2="10.9" stroke="#d62a84" stroke-width="1.7"/>
<text x="641.7" y="14.7" font-family='"Liberation Serif", serif' font-size="10.8" fill="#222" stroke="#222" stroke-width="0.22">16 mg/L</text>
<text x="411.7" y="212" font-family='"Liberation Serif", serif' font-size="11.2" fill="#222" stroke="#222" stroke-width="0.22">3474 cm<tspan font-size="7.2" dy="-4.3">-1</tspan></text>
<text transform="translate(456.5,212) scale(1.05,1)" font-family='"Liberation Serif", serif' font-weight="bold" font-size="13.2" fill="#ee1111" stroke="#ee1111" stroke-width="0.3">-OH</text>
<text x="551.1" y="179.4" font-family='"Liberation Serif", serif' font-size="11.2" fill="#222" stroke="#222" stroke-width="0.22">1654 cm<tspan font-size="7.2" dy="-4.3">-1</tspan></text>
<text transform="translate(545.6,192.5) scale(1.05,1)" font-family='"Liberation Serif", serif' font-weight="bold" font-size="13.2" fill="#ee1111" stroke="#ee1111" stroke-width="0.3">-COOH</text>
<text x="583" y="202.7" font-family='"Liberation Serif", serif' font-size="11.2" fill="#222" stroke="#222" stroke-width="0.22">1414 cm<tspan font-size="7.2" dy="-4.3">-1</tspan></text>
<text transform="translate(578.4,215.7) scale(1.05,1)" font-family='"Liberation Serif", serif' font-weight="bold" font-size="13.2" fill="#ee1111" stroke="#ee1111" stroke-width="0.3">-COOH</text>
<text x="610.2" y="154" font-family='"Liberation Serif", serif' font-size="11.2" fill="#222" stroke="#222" stroke-width="0.22">1062 cm<tspan font-size="7.2" dy="-4.3">-1</tspan></text>
<text transform="translate(616.6,168) scale(1.05,1)" font-family='"Liberation Serif", serif' font-weight="bold" font-size="13.2" fill="#ee1111" stroke="#ee1111" stroke-width="0.3">C-O</text>
<g fill="none" stroke-width="1.9" stroke-linejoin="round" stroke-linecap="round">
<path stroke="#2323c8" d="M387.4,405.6 C388.8,405.7,393.3,406.1,396.1,406.1 C398.9,406.1,402.4,405.3,404.4,405.6 C406.4,405.9,406.9,407.3,408.2,407.9 C409.5,408.5,410.9,408.1,412,409.4 C413.1,410.7,413.9,412.7,415,415.5 C416.1,418.3,417.4,422.8,418.8,426.1 C420.2,429.4,421.9,432.6,423.4,435.2 C424.9,437.8,426.1,440.1,427.9,442 C429.7,443.9,432,446.4,434,446.6 C436,446.9,437.7,445,440,443.5 C442.3,442,444.8,439.7,447.6,437.4 C450.4,435.1,453.7,432.3,456.7,429.8 C459.7,427.3,463,424.4,465.8,422.3 C468.6,420.2,470.9,418.9,473.4,417 C475.9,415.1,479.3,412.3,480.9,410.9 C482.5,409.5,482,409.7,483,408.8 C484,407.9,485.5,406.7,487,405.6 C488.5,404.5,489,403.6,492.1,402 C495.2,400.4,500.9,397.7,505.7,395.9 C510.5,394.1,517.6,392.2,520.9,391.4 C524.2,390.6,522.9,391.6,525.4,391.1 C527.9,390.6,531.7,389.8,536,388.6 C540.3,387.4,547.2,385,551.2,384.1 C555.2,383.2,557.9,383.1,560.3,383 C562.7,382.9,564,382.9,565.6,383.8 C567.2,384.7,568.7,386,570.1,388.3 C571.5,390.6,572.9,394.4,573.9,397.4 C574.9,400.4,575.4,404.3,576.2,406.5 C577,408.7,577.9,410,578.5,410.5 C579.1,411,579,410.1,580,409.4 C581,408.7,582.9,408,584.5,406.4 C586.1,404.8,588.4,399.6,589.8,399.5 C591.2,399.4,591.9,402.9,592.9,405.6 C593.9,408.3,594.9,412.7,595.9,415.5 C596.9,418.3,598.1,420.9,598.9,422.3 C599.7,423.7,599.9,425.4,600.5,423.6 C601.1,421.8,601.8,415.7,602.7,411.7 C603.6,407.7,604.5,403.6,605.8,399.5 C607.1,395.4,608.6,390.7,610.3,387.4 C612,384.1,614.5,380,616.1,379.5 C617.8,379,618.8,382.6,620.2,384.4 C621.6,386.2,623.4,389,624.7,390.5 C626,392,626.9,394.5,628.2,393.5 C629.5,392.5,630.8,387.7,632.3,384.4 C633.8,381.1,635.9,375.1,637.3,373.5 C638.7,371.9,639.3,374.6,640.6,375 C641.9,375.4,643.4,375.4,645.2,376.1 C647,376.8,649.2,378.4,651.2,379.1 C653.2,379.9,655.3,380.3,657.3,380.6 C659.3,380.9,661.3,381.5,663.3,381.1 C665.3,380.7,667.4,379.8,669.4,378.3 C671.4,376.8,673.6,374.2,675.5,372.3 C677.4,370.4,679.9,367.9,680.8,367"/>
<path stroke="#f7f33a" d="M387.4,385.9 C388.8,386,393.1,386.3,396.1,386.4 C399.1,386.5,402.7,386.3,405.2,386.7 C407.7,387.1,409.6,387.6,411.2,388.9 C412.8,390.1,413.7,391.8,415,394.2 C416.3,396.6,417.4,400.5,418.8,403.3 C420.2,406.1,421.9,408.8,423.4,410.9 C424.9,413,426.1,414.8,427.9,416.2 C429.7,417.6,432,418.9,434,419.2 C436,419.5,437.7,418.9,440,418.2 C442.3,417.4,444.8,416.4,447.6,414.7 C450.4,413,453.7,410.3,456.7,407.9 C459.7,405.5,462.8,402.7,465.8,400.3 C468.8,397.9,472.4,395.5,474.9,393.5 C477.4,391.5,479.5,389.4,480.9,388.2 C482.2,387,482,387.4,483,386.5 C484,385.6,485.5,384.2,487,383 C488.5,381.8,489,380.8,492.1,379.2 C495.2,377.6,500.9,374.7,505.7,373.2 C510.5,371.7,515.9,371.1,520.9,370.2 C525.9,369.3,531,369,536,367.9 C541,366.8,547.2,364.7,551.2,363.8 C555.2,362.9,557.9,362.5,560.3,362.3 C562.7,362.1,564,361.9,565.6,362.6 C567.2,363.3,568.7,364.1,570.1,366.4 C571.5,368.7,572.5,373.4,573.9,376.2 C575.3,379,577.5,382.1,578.5,383 C579.5,383.9,579.1,382.7,580,381.4 C580.9,380.1,582.4,376.7,583.8,375.3 C585.2,373.9,587,372.5,588.3,373 C589.6,373.5,590.4,375.4,591.4,378.3 C592.4,381.2,593.4,386.2,594.4,390.5 C595.4,394.8,596.5,401.3,597.4,404.1 C598.3,406.9,598.8,408.6,599.7,407.1 C600.6,405.6,601.7,400.3,602.7,395 C603.7,389.7,604.7,380.9,605.8,375.3 C606.9,369.8,608.4,364.9,609.5,361.7 C610.6,358.5,611.5,357.6,612.6,356.4 C613.8,355.2,615.1,354.3,616.4,354.4 C617.7,354.5,619,356,620.2,357.1 C621.5,358.2,622.6,359.9,623.9,360.9 C625.2,361.9,626.8,364.3,628.2,363.2 C629.6,362.1,630.8,356.4,632.3,354.1 C633.8,351.8,635.9,349.6,637.3,349.5 C638.7,349.4,639.5,352.8,640.6,353.3 C641.7,353.8,642.1,352,643.6,352.3 C645.1,352.6,647.4,354.6,649.7,355.3 C652,356,655,356.6,657.3,356.6 C659.6,356.6,661.3,356.2,663.3,355.2 C665.3,354.2,667.9,352.3,669.4,350.6 C670.9,348.9,671.4,346.9,672.4,345 C673.4,343.1,674.1,342.2,675.5,339.5 C676.9,336.8,679.9,330.7,680.8,328.9"/>
<path stroke="#e8892f" d="M387.4,358.8 C388.8,358.7,393.1,358.1,396.1,358 C399.1,357.9,402.9,357.9,405.2,358.3 C407.5,358.7,408.4,359.7,409.7,360.6 C411,361.5,411.8,361.8,412.8,363.6 C413.8,365.4,414.8,368.1,415.8,371.2 C416.8,374.3,417.5,378.5,418.8,382.1 C420.1,385.7,421.9,389.7,423.4,392.7 C424.9,395.7,426.1,398.2,427.9,400.3 C429.7,402.4,432,404.6,434,405.2 C436,405.8,437.7,405.1,440,404.1 C442.3,403.2,445.1,401.4,447.6,399.5 C450.1,397.6,452.7,395.3,455.2,392.7 C457.7,390.1,460.5,386.2,462.8,383.6 C465.1,381,466.8,379,468.8,376.8 C470.8,374.6,472.9,372.9,474.9,370.5 C476.9,368.1,479.5,364,480.9,362.1 C482.2,360.2,482,360.7,483,359.2 C484,357.7,485.5,355,487,353 C488.5,351,489,349.9,492.1,347.1 C495.2,344.4,500.9,339.3,505.7,336.5 C510.5,333.7,515.9,332,520.9,330.2 C525.9,328.4,531,327.7,536,325.6 C541,323.5,547.2,319.3,551.2,317.6 C555.2,315.9,557.9,315.7,560.3,315.3 C562.7,314.9,564,314.4,565.6,315.3 C567.2,316.2,568.7,317.6,570.1,320.6 C571.5,323.6,572.9,329.3,573.9,333.5 C574.9,337.7,575.4,342.2,576.2,345.6 C577,349,578.2,353.1,578.8,353.9 C579.4,354.7,579.2,352.6,580,350.2 C580.8,347.8,582.4,342.5,583.8,339.5 C585.2,336.5,587,332.5,588.3,332 C589.6,331.5,590.4,333.8,591.4,336.5 C592.4,339.2,593.5,342.8,594.4,348 C595.3,353.2,596.1,361.9,596.7,367.7 C597.3,373.5,597.7,379.6,598.2,382.9 C598.7,386.2,599.1,387.9,599.7,387.4 C600.3,386.9,601.4,384.3,602,379.8 C602.6,375.3,603,366,603.5,360.2 C604,354.4,604.2,351,605,345 C605.8,339,606.9,330.4,608,324.4 C609.1,318.4,610.5,312.5,611.8,309.2 C613.1,305.9,614.3,304.4,615.6,304.4 C616.9,304.4,618,306.6,619.4,309.2 C620.8,311.8,622.4,316.8,623.9,319.8 C625.4,322.8,626.8,328,628.2,327.1 C629.6,326.2,630.9,318.2,632.3,314.5 C633.7,310.8,635.4,305.1,636.8,304.7 C638.2,304.3,639.5,310.7,640.6,312.3 C641.7,313.9,642.1,312.6,643.6,314.5 C645.1,316.4,647.7,320.9,649.7,323.6 C651.7,326.3,653.5,328.5,655.8,330.5 C658.1,332.5,661,335.8,663.3,335.8 C665.6,335.8,667.4,333,669.4,330.5 C671.4,328,673.6,323.8,675.5,320.6 C677.4,317.4,679.9,313,680.8,311.5"/>
<path stroke="#d62a84" d="M387.4,329.5 C388.6,329.6,392.5,330,394.6,330.3 C396.7,330.6,398.3,331.2,399.9,331.1 C401.5,331.1,403.1,329.8,404.4,330 C405.7,330.2,406.4,332.1,407.5,332.6 C408.6,333.1,410.1,332.4,411.2,333 C412.3,333.6,413.3,334.3,414.3,336.4 C415.3,338.5,416.3,342.2,417.3,345.5 C418.3,348.8,419.2,352.6,420.3,356.1 C421.4,359.6,422.7,363.7,424.1,366.7 C425.5,369.7,427.1,372.2,428.7,374.2 C430.3,376.1,432.2,378.1,434,378.4 C435.8,378.7,437.5,377,439.3,375.8 C441.1,374.6,442.7,372.7,444.6,371.2 C446.5,369.7,448.3,368.8,450.6,366.7 C452.9,364.6,455.9,360.9,458.2,358.3 C460.5,355.7,462.3,353.2,464.3,350.8 C466.3,348.4,468.5,345.4,470.3,343.9 C472.1,342.4,473.1,343.2,474.9,341.7 C476.7,340.2,479.5,336.3,480.9,334.8 C482.2,333.3,482,333.8,483,332.7 C484,331.6,485.5,329.8,487,328.5 C488.5,327.2,489,327.1,492.1,325.2 C495.2,323.2,500.9,318.9,505.7,316.8 C510.5,314.7,515.9,313.8,520.9,312.7 C525.9,311.6,531,311.2,536,310 C541,308.8,547.2,306.5,551.2,305.5 C555.2,304.5,557.9,304.1,560.3,303.9 C562.7,303.7,564,303.5,565.6,304.4 C567.2,305.3,568.7,306.6,570.1,309.2 C571.5,311.8,572.9,316.5,573.9,319.8 C574.9,323.1,575.4,326.3,576.2,328.9 C577,331.5,578.2,334.4,578.8,335.3 C579.4,336.2,579.2,335.5,580,334.2 C580.8,332.9,582.4,329.5,583.8,327.4 C585.2,325.3,587,321.8,588.3,321.4 C589.6,321,590.4,322.7,591.4,325.2 C592.4,327.7,593.4,332.3,594.4,336.5 C595.4,340.7,596.5,346.8,597.4,350.2 C598.3,353.6,599,357.5,600,356.7 C601,355.9,602.4,350.5,603.5,345.6 C604.6,340.7,605.4,333.1,606.5,327.4 C607.6,321.7,609.2,315.3,610.3,311.5 C611.4,307.7,612.3,306.2,613.3,304.7 C614.3,303.2,615.4,302.1,616.4,302.4 C617.4,302.6,618.1,304,619.4,306.2 C620.6,308.4,622.4,312.9,623.9,315.3 C625.4,317.7,627.1,321.9,628.5,320.6 C629.9,319.3,630.9,311.7,632.3,307.7 C633.7,303.7,635.4,298.2,636.8,296.8 C638.2,295.4,639.5,298.9,640.6,299.4 C641.7,299.9,642.1,299.1,643.6,299.8 C645.1,300.6,647.7,302.6,649.7,303.9 C651.7,305.2,653.5,306.9,655.8,307.7 C658.1,308.5,661,309.2,663.3,308.5 C665.6,307.8,667.4,305.2,669.4,303.2 C671.4,301.2,673.6,299,675.5,296.4 C677.4,293.8,679.9,288.8,680.8,287.3"/>
</g>
<g stroke="#1a1a1a" stroke-width="1.8" stroke-dasharray="6.5 6.9">
<line x1="434" y1="355.3" x2="434" y2="455.5"/>
<line x1="579.3" y1="316.8" x2="579.3" y2="427.5"/>
<line x1="600.8" y1="325.2" x2="600.8" y2="449"/>
<line x1="628.8" y1="302.9" x2="628.8" y2="403.3"/>
<line x1="663.3" y1="293.3" x2="663.3" y2="420.3"/>
</g>
<rect x="387.4" y="269.8" width="293.8" height="216.7" fill="none" stroke="#525252" stroke-width="1.2"/>
<path stroke="#525252" stroke-width="1.2" fill="none" d="M387.4,486.5 v4 M407.8,486.5 v2.2 M428.2,486.5 v4 M448.6,486.5 v2.2 M469,486.5 v4 M489.4,486.5 v2.2 M509.8,486.5 v4 M530.2,486.5 v2.2 M550.6,486.5 v4 M571,486.5 v2.2 M591.4,486.5 v4 M611.8,486.5 v2.2 M632.2,486.5 v4 M652.6,486.5 v2.2 M673,486.5 v4"/>
<g font-family='"Liberation Serif", serif' font-weight="bold" font-size="11.8" fill="#111" stroke="#111" stroke-width="0.2" text-anchor="middle">
<text transform="translate(387.4,501.5) scale(0.91,1)">4000</text>
<text transform="translate(428.2,501.5) scale(0.91,1)">3500</text>
<text transform="translate(469,501.5) scale(0.91,1)">3000</text>
<text transform="translate(509.8,501.5) scale(0.91,1)">2500</text>
<text transform="translate(550.6,501.5) scale(0.91,1)">2000</text>
<text transform="translate(591.4,501.5) scale(0.91,1)">1500</text>
<text transform="translate(632.2,501.5) scale(0.91,1)">1000</text>
<text transform="translate(673,501.5) scale(0.91,1)">500</text>
</g>
<text x="534.3" y="522.5" font-family='"Liberation Serif", serif' font-weight="bold" font-size="12" fill="#111" stroke="#111" stroke-width="0.25" text-anchor="middle">Wavenumber (cm<tspan font-size="7.5" dy="-4.5">-1</tspan><tspan dy="4.5">)</tspan></text>
<text transform="translate(372,373.4) rotate(-90)" font-family='"Liberation Serif", serif' font-weight="bold" font-size="12" fill="#111" stroke="#111" stroke-width="0.25" text-anchor="middle">Transmittance</text>
<text x="350" y="296.5" font-family='"Liberation Serif", serif' font-weight="bold" font-size="18.5" fill="#111" stroke="#111" stroke-width="0.2">(d)</text>
<text transform="translate(392.1,282.6) scale(1.07,1)" font-family='"Liberation Serif", serif' font-weight="bold" font-size="13" fill="#111" stroke="#111" stroke-width="0.15">Cr + Pro</text>
<text x="393" y="301.2" font-family='"Liberation Serif", serif' font-size="13.5" fill="#222" stroke="#222" stroke-width="0.22">Root</text>
<line x1="452.3" y1="278.2" x2="477.6" y2="278.2" stroke="#2323c8" stroke-width="1.7"/>
<text x="479.6" y="282" font-family='"Liberation Serif", serif' font-size="10.8" fill="#222" stroke="#222" stroke-width="0.22">0</text>
<line x1="487.6" y1="278.2" x2="512.9" y2="278.2" stroke="#f7f33a" stroke-width="1.7"/>
<text x="515.4" y="282" font-family='"Liberation Serif", serif' font-size="10.8" fill="#222" stroke="#222" stroke-width="0.22">2 mg/L</text>
<line x1="550.1" y1="278.2" x2="575.4" y2="278.2" stroke="#e8892f" stroke-width="1.7"/>
<text x="577.8" y="282" font-family='"Liberation Serif", serif' font-size="10.8" fill="#222" stroke="#222" stroke-width="0.22">8 mg/L</text>
<line x1="612.5" y1="278.2" x2="637.8" y2="278.2" stroke="#d62a84" stroke-width="1.7"/>
<text x="640.1" y="282" font-family='"Liberation Serif", serif' font-size="10.8" fill="#222" stroke="#222" stroke-width="0.22">16 mg/L</text>
<text x="415.6" y="474.1" font-family='"Liberation Serif", serif' font-size="11.2" fill="#222" stroke="#222" stroke-width="0.22">3458 cm<tspan font-size="7.2" dy="-4.3">-1</tspan></text>
<text transform="translate(463.7,473.8) scale(1.05,1)" font-family='"Liberation Serif", serif' font-weight="bold" font-size="13.2" fill="#ee1111" stroke="#ee1111" stroke-width="0.3">-OH</text>
<text x="536.8" y="442.3" font-family='"Liberation Serif", serif' font-size="11.2" fill="#222" stroke="#222" stroke-width="0.22">1676 cm<tspan font-size="7.2" dy="-4.3">-1</tspan></text>
<text transform="translate(531.8,452.9) scale(1.05,1)" font-family='"Liberation Serif", serif' font-weight="bold" font-size="13.2" fill="#ee1111" stroke="#ee1111" stroke-width="0.3">-COOH</text>
<text x="573.2" y="461.9" font-family='"Liberation Serif", serif' font-size="11.2" fill="#222" stroke="#222" stroke-width="0.22">1392 cm<tspan font-size="7.2" dy="-4.3">-1</tspan></text>
<text transform="translate(570.7,474.9) scale(1.05,1)" font-family='"Liberation Serif", serif' font-weight="bold" font-size="13.2" fill="#ee1111" stroke="#ee1111" stroke-width="0.3">-COOH</text>
<text x="608" y="416.2" font-family='"Liberation Serif", serif' font-size="11.2" fill="#222" stroke="#222" stroke-width="0.22">1074 cm<tspan font-size="7.2" dy="-4.3">-1</tspan></text>
<text transform="translate(612,427.9) scale(1.05,1)" font-family='"Liberation Serif", serif' font-weight="bold" font-size="13.2" fill="#ee1111" stroke="#ee1111" stroke-width="0.3">C-O</text>
<text x="638.3" y="433.2" font-family='"Liberation Serif", serif' font-size="11.2" fill="#222" stroke="#222" stroke-width="0.22">658 cm<tspan font-size="7.2" dy="-4.3">-1</tspan></text>
<text transform="translate(632.8,446.9) scale(1.05,1)" font-family='"Liberation Serif", serif' font-weight="bold" font-size="13.2" fill="#ee1111" stroke="#ee1111" stroke-width="0.3">O=S=O</text>
</svg>
</body></html>
